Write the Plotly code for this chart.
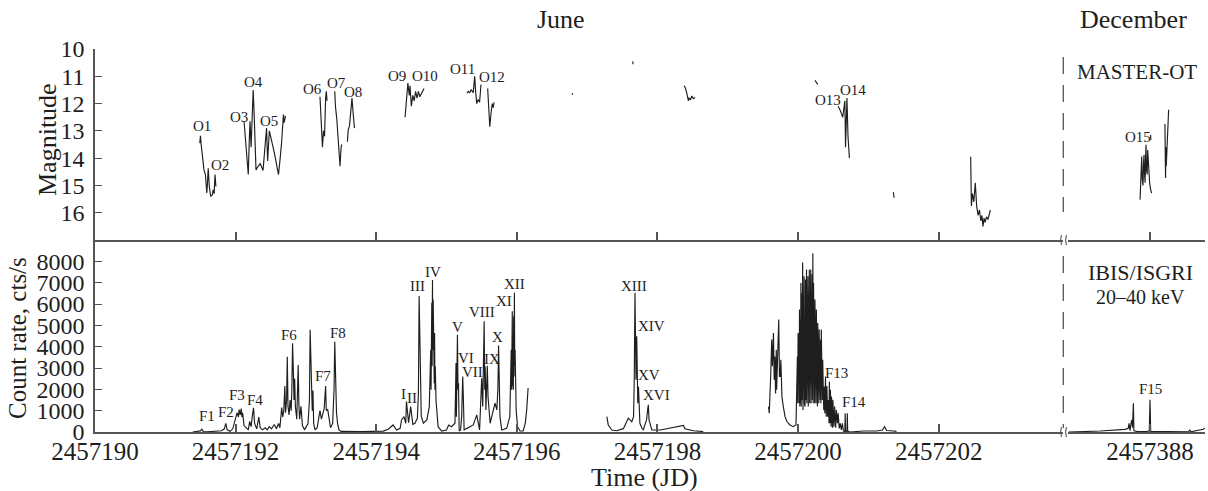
import plotly.graph_objects as go

# ---------------- data ----------------
JD0 = 2457190      # June reference epoch (offsets below are days from it)
JD_DEC = 2457388   # December reference epoch

# MASTER-OT magnitudes, June: (days from JD0, magnitude)
mag_o1 = [(1.49, 13.45), (1.50, 13.18), (1.51, 13.5), (1.53, 13.94), (1.55, 14.43), (1.57, 14.6),
          (1.59, 15.28), (1.60, 14.9), (1.61, 14.37), (1.626, 15.04), (1.645, 15.4), (1.67, 15.34),
          (1.68, 15.16), (1.695, 15.3), (1.707, 14.6), (1.72, 15.04)]
mag_o3_o5 = [(2.12, 12.65), (2.13, 13.0), (2.15, 13.6), (2.18, 14.6), (2.195, 13.3), (2.205, 12.65),
             (2.22, 13.6), (2.235, 12.5), (2.25, 11.5), (2.265, 12.5), (2.29, 14.43), (2.32, 14.3),
             (2.35, 14.2), (2.39, 14.45), (2.42, 13.6), (2.44, 12.9), (2.455, 14.1), (2.48, 13.0),
             (2.55, 13.8), (2.61, 14.6), (2.63, 14.1), (2.655, 13.4), (2.68, 12.4), (2.69, 12.7),
             (2.71, 12.45)]
mag_o6 = [(3.20, 11.75), (3.215, 12.5), (3.235, 13.6), (3.25, 13.0), (3.265, 13.2), (3.28, 11.8),
          (3.29, 11.55), (3.30, 11.9)]
mag_o7 = [(3.41, 11.55), (3.42, 12.1), (3.44, 12.6), (3.46, 13.5), (3.485, 14.3), (3.50, 13.6),
          (3.51, 13.5)]
mag_o8 = [(3.59, 13.4), (3.60, 13.0), (3.62, 12.8), (3.63, 12.5), (3.655, 11.8), (3.67, 12.3),
          (3.69, 12.9)]
mag_o9_o10 = [(4.41, 12.5), (4.43, 11.9), (4.45, 11.25), (4.47, 11.7), (4.48, 11.35), (4.50, 12.1),
              (4.52, 11.7), (4.54, 11.9), (4.56, 11.55), (4.58, 11.8), (4.60, 11.55), (4.62, 11.75),
              (4.65, 11.6), (4.68, 11.45)]
mag_o11 = [(5.29, 11.62), (5.31, 11.55), (5.33, 11.6), (5.35, 11.5), (5.38, 11.6), (5.40, 11.0),
           (5.415, 11.6), (5.43, 12.0), (5.45, 11.85), (5.47, 11.95), (5.49, 11.3)]
mag_o12 = [(5.585, 11.45), (5.60, 12.2), (5.615, 12.85), (5.635, 12.3), (5.65, 12.0), (5.665, 12.15),
           (5.675, 11.95)]
mag_dot_a = [(6.785, 11.62), (6.795, 11.68)]
mag_dot_b = [(7.65, 10.45), (7.652, 10.56)]
mag_seg_84 = [(8.38, 11.35), (8.40, 11.45), (8.42, 11.65), (8.44, 11.9), (8.45, 11.8), (8.47, 11.85),
              (8.49, 11.72), (8.51, 11.82), (8.535, 11.78)]
mag_dot_c = [(10.24, 11.15), (10.28, 11.3)]
mag_o13_o14 = [(10.57, 12.1), (10.60, 12.25), (10.635, 12.5), (10.65, 12.2), (10.665, 11.9),
               (10.675, 13.6), (10.685, 12.4), (10.695, 11.8), (10.71, 13.2), (10.73, 14.0)]
mag_dot_d = [(11.355, 15.25), (11.365, 15.45)]
mag_seg_125 = [(12.455, 13.95), (12.465, 15.75), (12.48, 15.3), (12.50, 15.6), (12.52, 14.9),
               (12.53, 15.4), (12.54, 15.75), (12.56, 16.1), (12.58, 15.9), (12.60, 16.3),
               (12.615, 16.1), (12.63, 16.5), (12.645, 16.2), (12.66, 16.35), (12.68, 16.15),
               (12.70, 16.25), (12.72, 16.0), (12.735, 15.9)]

# MASTER-OT magnitudes, December: (days from JD_DEC, magnitude)
mag_dec_o15 = [(-0.142, 15.52), (-0.135, 14.8), (-0.125, 14.2), (-0.118, 13.94), (-0.11, 14.8),
               (-0.10, 15.0), (-0.092, 14.2), (-0.085, 13.88), (-0.078, 14.55), (-0.07, 14.9),
               (-0.063, 14.0), (-0.057, 13.51), (-0.05, 14.43), (-0.04, 14.6), (-0.033, 13.7),
               (-0.025, 14.2), (-0.014, 14.67), (-0.005, 14.91), (0.01, 15.16), (0.024, 15.28)]
mag_dec_dot = [(0.008, 13.15), (0.012, 13.33)]
mag_dec_late = [(0.213, 12.75), (0.216, 13.5), (0.222, 14.73), (0.226, 13.6), (0.232, 14.3),
                (0.245, 13.2), (0.255, 13.0), (0.266, 12.23)]

# IBIS/ISGRI 20-40 keV count rate, June: (days from JD0, cts/s)
rate_seg_a = [(1.39, 0), (1.45, 20), (1.50, 50), (1.52, 130), (1.54, 20), (1.60, 10), (1.70, 20),
              (1.80, 60), (1.84, 150), (1.86, 400), (1.88, 100), (1.92, 30), (1.96, 150), (1.99, 500),
              (2.02, 900), (2.04, 700), (2.05, 1050), (2.065, 800), (2.08, 1100), (2.09, 700),
              (2.10, 900), (2.12, 300), (2.15, 200), (2.18, 100), (2.20, 500), (2.22, 250), (2.24, 800),
              (2.255, 1130), (2.27, 400), (2.30, 150), (2.33, 700), (2.35, 200), (2.38, 100),
              (2.42, 200), (2.45, 100), (2.48, 250), (2.51, 150), (2.55, 350), (2.58, 150), (2.61, 400),
              (2.63, 200), (2.645, 800), (2.655, 1150), (2.67, 700), (2.685, 1000), (2.70, 2160),
              (2.71, 900), (2.725, 1500), (2.735, 3530), (2.745, 1200), (2.76, 800), (2.775, 1500),
              (2.79, 1000), (2.80, 2000), (2.81, 4160), (2.82, 2980), (2.83, 1500), (2.84, 2500),
              (2.85, 1200), (2.87, 600), (2.88, 1500), (2.89, 3140), (2.90, 1300), (2.91, 600),
              (2.93, 1200), (2.95, 300), (2.98, 100), (3.00, 200), (3.03, 400), (3.05, 1500),
              (3.06, 4790), (3.07, 3500), (3.08, 1960), (3.09, 1000), (3.10, 1950), (3.11, 400),
              (3.13, 100), (3.16, 200), (3.19, 800), (3.20, 1000), (3.22, 600), (3.24, 900),
              (3.26, 1100), (3.28, 2160), (3.29, 1000), (3.31, 1050), (3.33, 600), (3.35, 200),
              (3.38, 400), (3.40, 2000), (3.41, 4230), (3.42, 2100), (3.435, 900), (3.45, 400),
              (3.47, 100), (3.50, 30), (3.60, 20), (3.80, 20), (3.95, 30), (4.10, 40), (4.17, 130),
              (4.24, 330), (4.29, 94), (4.34, 170), (4.36, 565), (4.395, 720), (4.42, 400),
              (4.43, 1430), (4.46, 440), (4.49, 1190), (4.52, 360), (4.55, 410), (4.585, 640),
              (4.60, 1820), (4.61, 6370), (4.63, 3540), (4.64, 750), (4.67, 410), (4.72, 565),
              (4.755, 1190), (4.765, 2600), (4.775, 3860), (4.78, 1980), (4.785, 4500), (4.79, 6060),
              (4.795, 3080), (4.80, 7120), (4.805, 3860), (4.81, 6210), (4.815, 2600), (4.82, 5740),
              (4.825, 2290), (4.83, 4640), (4.835, 1980), (4.84, 3080), (4.85, 1500), (4.86, 1035),
              (4.88, 250), (4.93, 47), (5.00, 94), (5.03, 330), (5.07, 250), (5.12, 410),
              (5.135, 3230), (5.14, 720), (5.145, 3860), (5.15, 1190), (5.155, 4560), (5.163, 1980),
              (5.17, 2290), (5.18, 47), (5.20, 94), (5.215, 720), (5.23, 2600), (5.24, 1500),
              (5.25, 94), (5.29, 170), (5.335, 250), (5.38, 330), (5.43, 800), (5.47, 94),
              (5.50, 2520), (5.515, 1190), (5.535, 5190), (5.543, 1980), (5.55, 3070), (5.56, 1035),
              (5.58, 3100), (5.59, 1660), (5.60, 1035), (5.62, 410), (5.655, 880), (5.69, 1350),
              (5.715, 1035), (5.73, 1980), (5.74, 4050), (5.75, 1980), (5.76, 720), (5.785, 94),
              (5.855, 170), (5.90, 720), (5.92, 3860), (5.925, 1980), (5.935, 5660), (5.94, 2290),
              (5.945, 5110), (5.95, 1980), (5.955, 5430), (5.96, 2600), (5.965, 6530), (5.97, 3080),
              (5.975, 3860), (5.99, 1035), (6.01, 250), (6.045, 47), (6.09, 47), (6.12, 410),
              (6.14, 1035), (6.16, 2060)]
rate_seg_b = [(7.28, 720), (7.30, 330), (7.35, 94), (7.42, 60), (7.515, 157), (7.56, 486), (7.585, 643),
              (7.61, 565), (7.635, 486), (7.66, 720), (7.67, 2450), (7.68, 6525), (7.685, 3230),
              (7.69, 5110), (7.695, 2450), (7.705, 4490), (7.71, 1980), (7.715, 2920), (7.72, 1350),
              (7.73, 2130), (7.74, 1190), (7.75, 410), (7.78, 173), (7.80, 94), (7.82, 330),
              (7.845, 565), (7.86, 1035), (7.87, 1270), (7.88, 565), (7.895, 410), (7.92, 94),
              (8.04, 94), (8.13, 157), (8.27, 220), (8.37, 310), (8.39, 150), (8.51, 60), (8.65, 20)]
rate_seg_c = [(9.58, 1190), (9.59, 880), (9.61, 2600), (9.625, 4330), (9.635, 3080), (9.65, 4640),
              (9.66, 2450), (9.67, 3540), (9.68, 1800), (9.69, 3860), (9.695, 1980), (9.705, 3080),
              (9.715, 3860), (9.725, 5270), (9.735, 2600), (9.745, 2600), (9.755, 3390), (9.77, 1660),
              (9.79, 1190), (9.815, 720), (9.84, 490), (9.885, 330), (9.93, 250), (9.97, 330),
              (9.975, 1035), (9.98, 1980), (9.985, 1190), (9.99, 3540), (9.995, 1350), (10.00, 4640),
              (10.005, 1500), (10.01, 4200), (10.015, 1350), (10.02, 5740), (10.025, 1190),
              (10.03, 5300), (10.035, 1350), (10.04, 6990), (10.045, 1190), (10.05, 6500),
              (10.055, 1500), (10.065, 7940), (10.07, 1035), (10.075, 6210), (10.08, 1190),
              (10.085, 7300), (10.09, 1350), (10.095, 6800), (10.10, 1190), (10.105, 7150),
              (10.11, 1500), (10.115, 6600), (10.12, 7620), (10.125, 1350), (10.13, 6900),
              (10.135, 1500), (10.14, 7300), (10.145, 1190), (10.15, 6210), (10.155, 1660),
              (10.16, 7600), (10.165, 1350), (10.17, 6800), (10.175, 1500), (10.18, 7620),
              (10.185, 1350), (10.19, 6990), (10.195, 1660), (10.20, 7400), (10.205, 1500),
              (10.21, 8380), (10.215, 1350), (10.22, 6990), (10.225, 1500), (10.23, 6520),
              (10.235, 1350), (10.24, 6210), (10.245, 1500), (10.25, 5900), (10.255, 1350),
              (10.26, 5740), (10.265, 1500), (10.27, 5430), (10.275, 1190), (10.28, 5110),
              (10.285, 1500), (10.29, 4950), (10.295, 1350), (10.30, 4800), (10.305, 1660),
              (10.31, 4640), (10.315, 1500), (10.32, 4330), (10.325, 1350), (10.33, 4800),
              (10.335, 1660), (10.34, 3860), (10.345, 1500), (10.35, 3390), (10.355, 1190),
              (10.36, 3080), (10.365, 1035), (10.37, 2130), (10.38, 880), (10.39, 2600), (10.40, 720),
              (10.41, 2150), (10.42, 720), (10.43, 1500), (10.44, 410), (10.445, 2370), (10.455, 410),
              (10.46, 1980), (10.47, 250), (10.475, 1660), (10.49, 200), (10.495, 1510), (10.51, 250),
              (10.52, 1190), (10.535, 200), (10.545, 1035), (10.56, 410), (10.57, 880), (10.585, 170),
              (10.60, 410), (10.615, 94), (10.63, 410), (10.645, 47), (10.665, 0), (10.67, 880),
              (10.675, 47), (10.695, 0), (10.70, 880), (10.705, 47), (10.74, 0), (10.93, 47),
              (11.12, 47), (11.20, 94), (11.23, 251), (11.24, 173), (11.26, 70), (11.355, 47),
              (11.40, 30)]

# IBIS/ISGRI count rate, December: (days from JD_DEC, cts/s)
rate_dec = [(-1.16, 0), (-0.71, 47), (-0.356, 125), (-0.31, 173), (-0.30, 408), (-0.285, 60),
            (-0.275, 330), (-0.26, 565), (-0.25, 200), (-0.237, 1350), (-0.23, 60), (-0.19, 30),
            (-0.047, 20), (-0.01, 60), (0.0, 1506), (0.01, 30), (0.237, 20), (0.545, 10),
            (0.57, 94), (0.58, 10), (0.76, 125), (0.78, 188)]

# flare labels: text, days offset, value
opt_lbl_text = ["O1", "O2", "O3", "O4", "O5", "O6", "O7", "O8", "O9", "O10", "O11", "O12", "O13", "O14"]
opt_lbl_t = [1.52, 1.78, 2.05, 2.26, 2.475, 3.10, 3.43, 3.67, 4.29, 4.69, 5.23, 5.65, 10.42, 10.78]
opt_lbl_mag = [12.82, 14.24, 12.49, 11.21, 12.63, 11.46, 11.24, 11.57, 10.99, 10.99, 10.73, 11.02, 11.87, 11.5]
xr_lbl_text = ["F1", "F2", "F3", "F4", "F6", "F7", "F8", "I", "II", "III", "IV", "V", "VI", "VII",
               "VIII", "IX", "X", "XI", "XII", "XIII", "XIV", "XV", "XVI", "F13", "F14"]
xr_lbl_t = [1.59, 1.86, 2.02, 2.28, 2.76, 3.24, 3.46, 4.39, 4.51, 4.59, 4.81, 5.15, 5.28, 5.37,
            5.51, 5.65, 5.73, 5.82, 5.96, 7.67, 7.91, 7.88, 7.98, 10.545, 10.80]
xr_lbl_rate = [753, 941, 1741, 1506, 4565, 2635, 4659, 1788, 1600, 6824, 7482, 4941, 3480, 2800,
               5647, 3435, 4471, 6118, 6918, 6838, 4955, 2682, 1741, 2776, 1412]
dec_opt_lbl = ("O15", -0.17, 13.22)
dec_xr_lbl = ("F15", 0.014, 2024)

june_ticks = [2457190, 2457192, 2457194, 2457196, 2457198, 2457200, 2457202]
dec_ticks = [2457388]
mag_ticks = [10, 11, 12, 13, 14, 15, 16]
rate_ticks = [0, 1000, 2000, 3000, 4000, 5000, 6000, 7000, 8000]


# ---------------- helpers ----------------
def join(epoch, *segments):
    xs, ys = [], []
    for i, seg in enumerate(segments):
        if i:
            xs.append(None)
            ys.append(None)
        for t, v in seg:
            xs.append(epoch + t)
            ys.append(v)
    return xs, ys


FONT = "Liberation Serif"
INK = "#1e1e1e"
AXIS = "#555555"
LW = 1.15

W, H = 1208, 491
ML, MR, MT, MB = 95, 3, 49, 59
SPLIT = 0.5013
XL_END = 0.8722
XR_START = 0.8766

fig = go.Figure()

mx, my = join(JD0, mag_o1, mag_o3_o5, mag_o6, mag_o7, mag_o8, mag_o9_o10, mag_o11, mag_o12,
              mag_dot_a, mag_dot_b, mag_seg_84, mag_dot_c, mag_o13_o14, mag_dot_d, mag_seg_125)
fig.add_trace(go.Scatter(x=mx, y=my, xaxis="x3", yaxis="y3", mode="lines",
                         line=dict(color=INK, width=LW), connectgaps=False, hoverinfo="skip"))
dmx, dmy = join(JD_DEC, mag_dec_o15, mag_dec_dot, mag_dec_late)
fig.add_trace(go.Scatter(x=dmx, y=dmy, xaxis="x4", yaxis="y3", mode="lines",
                         line=dict(color=INK, width=LW), connectgaps=False, hoverinfo="skip"))
rx, ry = join(JD0, rate_seg_a, rate_seg_b, rate_seg_c)
fig.add_trace(go.Scatter(x=rx, y=ry, xaxis="x", yaxis="y", mode="lines",
                         line=dict(color=INK, width=LW), connectgaps=False, hoverinfo="skip"))
drx, dry = join(JD_DEC, rate_dec)
fig.add_trace(go.Scatter(x=drx, y=dry, xaxis="x2", yaxis="y", mode="lines",
                         line=dict(color=INK, width=LW), connectgaps=False, hoverinfo="skip"))

ann = []
LBL = dict(family=FONT, size=15, color=INK)
for txt, t, v in zip(opt_lbl_text, opt_lbl_t, opt_lbl_mag):
    ann.append(dict(x=JD0 + t, y=v, xref="x3", yref="y3", text=txt, showarrow=False, font=LBL))
for txt, t, v in zip(xr_lbl_text, xr_lbl_t, xr_lbl_rate):
    ann.append(dict(x=JD0 + t, y=v, xref="x", yref="y", text=txt, showarrow=False, font=LBL))
ann.append(dict(x=JD_DEC + dec_opt_lbl[1], y=dec_opt_lbl[2], xref="x4", yref="y3",
                text=dec_opt_lbl[0], showarrow=False, font=LBL))
ann.append(dict(x=JD_DEC + dec_xr_lbl[1], y=dec_xr_lbl[2], xref="x2", yref="y",
                text=dec_xr_lbl[0], showarrow=False, font=LBL))


def paper_x(px):
    return (px - ML) / (W - ML - MR)


def paper_y(py):
    return (H - MB - py) / (H - MT - MB)


def text_ann(txt, px, py, size, angle=0):
    return dict(x=paper_x(px), y=paper_y(py), xref="paper", yref="paper", text=txt,
                showarrow=False, textangle=angle, font=dict(family=FONT, size=size, color=INK),
                xanchor="center", yanchor="middle")


ann += [
    text_ann("June", 561, 20, 26),
    text_ann("December", 1133, 20, 26),
    text_ann("MASTER-OT", 1137, 72, 21),
    text_ann("IBIS/ISGRI", 1140, 272, 22),
    text_ann("20–40 keV", 1140, 297, 20),
    text_ann("Magnitude", 47, 140, 26, -90),
    text_ann("Count rate, cts/s", 17, 338, 25, -90),
    text_ann("Time (JD)", 644, 477, 26),
]

shapes = []
dash = dict(color=AXIS, width=1.3, dash="17px,11px")
xb = paper_x(1063.3)
shapes.append(dict(type="line", xref="paper", yref="paper", x0=xb, x1=xb,
                   y0=paper_y(57), y1=paper_y(212), line=dash))
shapes.append(dict(type="line", xref="paper", yref="paper", x0=xb, x1=xb,
                   y0=paper_y(256), y1=paper_y(428), line=dash))
# axis-break marks
for py in (240, 432):
    for px in (1061.5, 1066.5):
        x0 = paper_x(px)
        xc = paper_x(px - 1.8)
        ya, yc, yb = paper_y(py - 5), paper_y(py), paper_y(py + 5)
        shapes.append(dict(type="path", xref="paper", yref="paper",
                           path=f"M {x0},{ya} Q {xc},{yc} {x0},{yb}",
                           line=dict(color=AXIS, width=1.1)))

common_x = dict(showline=True, linecolor=AXIS, linewidth=1.5, ticks="inside", ticklen=8,
                tickcolor=AXIS, tickwidth=1.5, showgrid=False, zeroline=False,
                tickfont=dict(family=FONT, size=25, color=INK), ticklabelstandoff=-4)
common_y = dict(showline=True, linecolor=AXIS, linewidth=1.5, ticks="inside", ticklen=7,
                tickcolor=AXIS, tickwidth=1.3, showgrid=False, zeroline=False,
                tickfont=dict(family=FONT, size=24, color=INK), ticklabelstandoff=4)

fig.update_layout(
    width=W, height=H, margin=dict(l=ML, r=MR, t=MT, b=MB),
    paper_bgcolor="white", plot_bgcolor="white", showlegend=False,
    xaxis=dict(domain=[0, XL_END], range=[JD0, JD0 + 13.77], anchor="y",
               tickvals=june_ticks, ticktext=[str(v) for v in june_ticks], **common_x),
    xaxis2=dict(domain=[XR_START, 1], range=[JD_DEC - 1.17, JD_DEC + 0.785], anchor="y",
                tickvals=dec_ticks, ticktext=[str(v) for v in dec_ticks], **common_x),
    xaxis3=dict(domain=[0, XL_END], matches="x", anchor="y3", showticklabels=False,
                tickvals=june_ticks, **common_x),
    xaxis4=dict(domain=[XR_START, 1], matches="x2", anchor="y3", showticklabels=False,
                tickvals=dec_ticks, **common_x),
    yaxis=dict(domain=[0, SPLIT], range=[0, 9000], anchor="x", tickvals=rate_ticks,
               ticktext=[str(v) for v in rate_ticks], **common_y),
    yaxis3=dict(domain=[SPLIT, 1], range=[17, 10], anchor="x3", tickvals=mag_ticks,
                ticktext=[str(v) for v in mag_ticks], **common_y),
    annotations=ann,
    shapes=shapes,
)

fig.write_html("out.html")
